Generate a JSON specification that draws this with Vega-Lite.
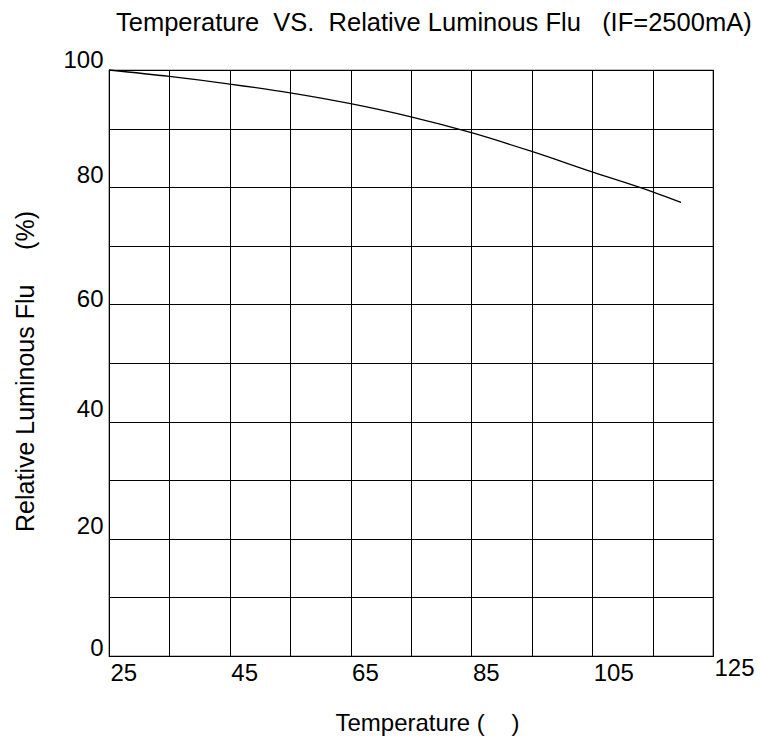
{
  "$schema": "https://vega.github.io/schema/vega-lite/v6.json",
  "autosize": "none",
  "width": 604,
  "height": 586,
  "padding": {"left": 109, "top": 70, "right": 48, "bottom": 86},
  "background": "white",
  "config": {
    "font": "Liberation Sans",
    "view": {"stroke": "#000000", "strokeWidth": 1.2},
    "axis": {
      "grid": true,
      "gridColor": "#000000",
      "gridOpacity": 1,
      "gridWidth": 1,
      "domain": false,
      "ticks": false,
      "labelFont": "Liberation Sans",
      "labelFontSize": 24,
      "labelColor": "#000000",
      "titleFont": "Liberation Sans",
      "titleFontSize": 24,
      "titleFontWeight": "normal",
      "titleColor": "#000000"
    }
  },
  "title": {
    "text": "Temperature\u00a0\u00a0VS.\u00a0\u00a0Relative Luminous Flu\u00a0\u00a0\u00a0(IF=2500mA)",
    "anchor": "start",
    "dx": 103,
    "dy": 26,
    "offset": 18,
    "baseline": "alphabetic",
    "font": "Liberation Sans",
    "fontSize": 25.5,
    "fontWeight": "normal",
    "color": "#000000"
  },
  "data": {
    "values": [
      {"temp": 25, "flux": 100},
      {"temp": 35, "flux": 98.9},
      {"temp": 45, "flux": 97.6},
      {"temp": 55, "flux": 96.1},
      {"temp": 65, "flux": 94.25},
      {"temp": 75, "flux": 92.0},
      {"temp": 85, "flux": 89.3},
      {"temp": 95, "flux": 86.1},
      {"temp": 105, "flux": 82.6},
      {"temp": 115, "flux": 79.2},
      {"temp": 119.7, "flux": 77.4}
    ]
  },
  "mark": {"type": "line", "color": "#000000", "strokeWidth": 1.3, "interpolate": "monotone"},
  "encoding": {
    "x": {
      "field": "temp",
      "type": "quantitative",
      "scale": {"domain": [25, 125], "nice": false, "zero": false},
      "axis": {
        "values": [25, 35, 45, 55, 65, 75, 85, 95, 105, 115, 125],
        "labelExpr": "(datum.value - 25) % 20 == 0 ? datum.label : ''",
        "labelAlign": "left",
        "labelBaseline": "top",
        "labelOffset": 1,
        "labelPadding": {"condition": {"test": "datum.value == 125", "value": 0}, "value": 5},
        "labelFlush": false,
        "labelOverlap": false,
        "title": "Temperature (\u00a0\u00a0\u00a0\u00a0)",
        "titleAnchor": "start",
        "titleAlign": "center",
        "titleBaseline": "alphabetic",
        "titleX": 318,
        "titleY": 74
      }
    },
    "y": {
      "field": "flux",
      "type": "quantitative",
      "scale": {"domain": [0, 100], "nice": false, "zero": false},
      "axis": {
        "values": [0, 10, 20, 30, 40, 50, 60, 70, 80, 90, 100],
        "labelExpr": "datum.value % 20 == 0 ? datum.label : ''",
        "labelAlign": "right",
        "labelBaseline": "middle",
        "labelPadding": 6,
        "labelOffset": {
          "condition": [
            {"test": "datum.value == 60", "value": -5},
            {"test": "datum.value == 0", "value": -8},
            {"test": "datum.value == 100", "value": -10}
          ],
          "value": -12
        },
        "labelFlush": false,
        "labelOverlap": false,
        "title": "Relative Luminous Flu\u00a0\u00a0\u00a0\u00a0\u00a0(%)",
        "titleFontSize": 25,
        "titleAngle": -90,
        "titleAlign": "center",
        "titleBaseline": "alphabetic",
        "titleX": -76,
        "titleY": 301
      }
    }
  }
}
